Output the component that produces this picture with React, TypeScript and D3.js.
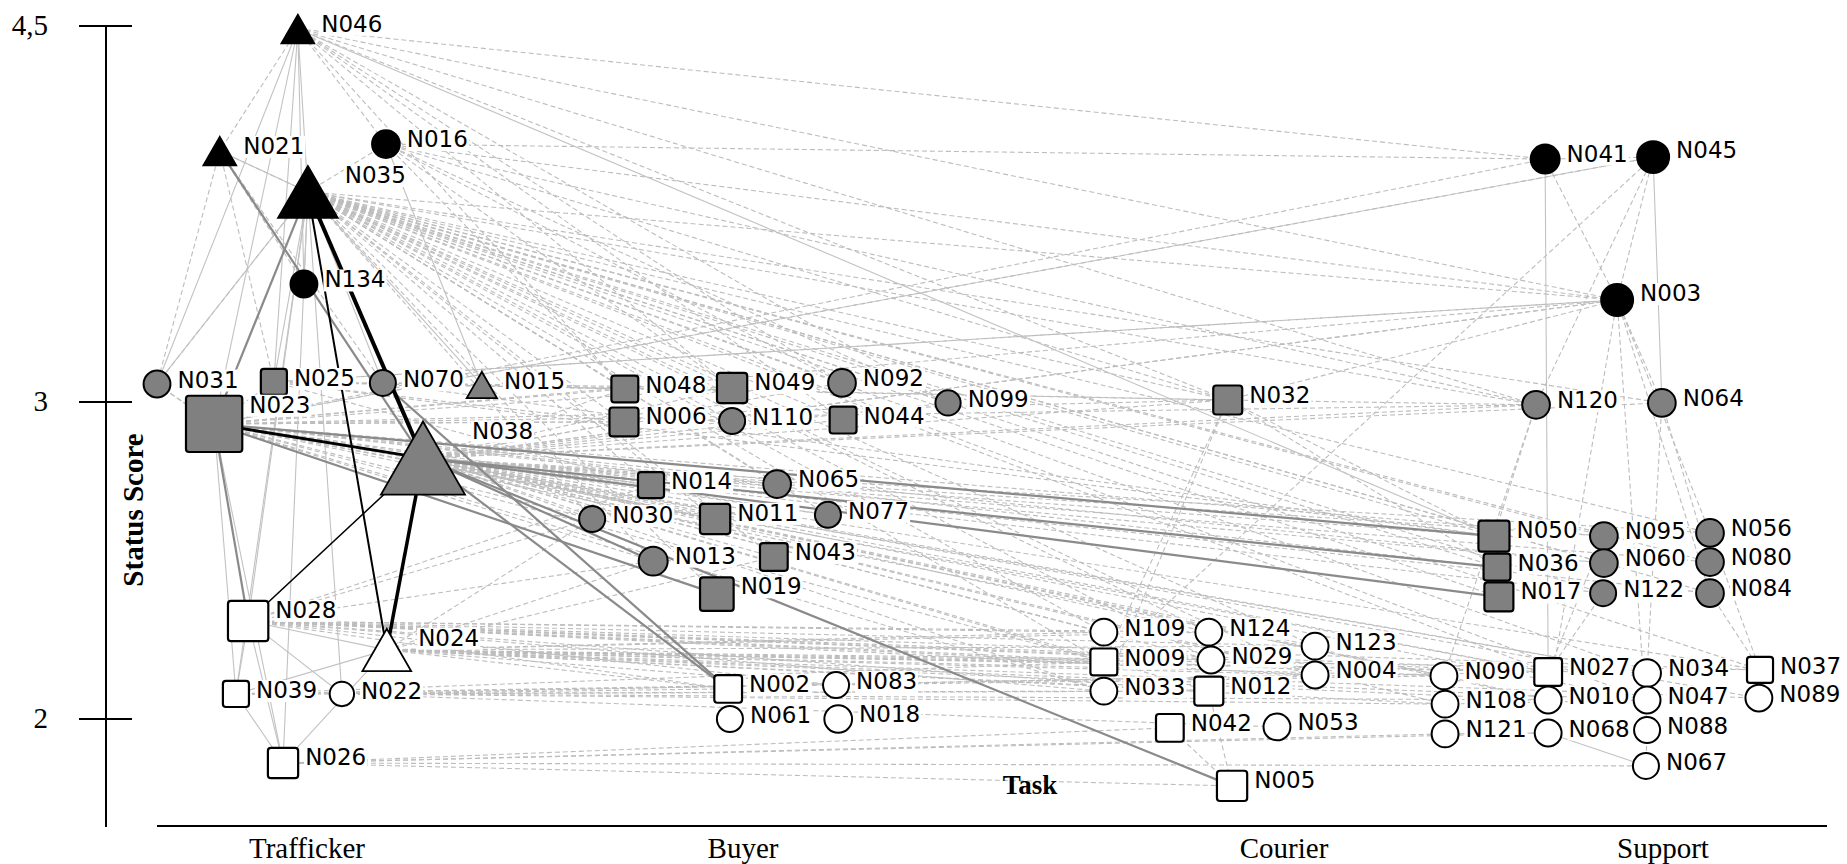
import React from 'react'
import * as d3 from 'd3'

// task categories along the bottom, status score ticks on the left
const taskLabels = ['Trafficker', 'Buyer', 'Courier', 'Support']
const scoreTicks = [2, 3, 4.5]
const scoreTickLabels = ['2', '3', '4,5']

// [id, task position, status score, shape, tone, centrality]
type NodeRow = [string, number, number, string, string, number]

const traffickerNodes: NodeRow[] = [
  ['N046', -0.021, 4.488, 'tri', 'black', 3.9],
  ['N021', -0.2, 4.001, 'tri', 'black', 3.9],
  ['N016', 0.181, 4.029, 'circle', 'black', 3.3],
  ['N035', 0.002, 3.838, 'tri', 'black', 7.1],
  ['N134', -0.007, 3.471, 'circle', 'black', 3.2],
  ['N031', -0.344, 3.072, 'circle', 'gray', 3.2],
  ['N025', -0.076, 3.08, 'square', 'gray', 3.1],
  ['N070', 0.174, 3.076, 'circle', 'gray', 3.1],
  ['N015', 0.401, 3.068, 'tri', 'gray', 3.6],
  ['N023', -0.213, 2.931, 'square', 'gray', 6.7],
  ['N038', 0.266, 2.823, 'tri', 'gray', 10],
  ['N028', -0.135, 2.309, 'square', 'white', 4.8],
  ['N024', 0.183, 2.218, 'tri', 'white', 5.8],
  ['N039', -0.163, 2.079, 'square', 'white', 3.1],
  ['N022', 0.08, 2.079, 'circle', 'white', 2.9],
  ['N026', -0.055, 1.861, 'square', 'white', 3.6],
]

const buyerNodes: NodeRow[] = [
  ['N048', 0.729, 3.052, 'square', 'gray', 3.2],
  ['N049', 0.975, 3.056, 'square', 'gray', 3.6],
  ['N092', 1.183, 3.076, 'circle', 'gray', 3.3],
  ['N099', 1.379, 2.997, 'circle', 'gray', 3.0],
  ['N006', 0.727, 2.937, 'square', 'gray', 3.45],
  ['N110', 0.975, 2.94, 'circle', 'gray', 3.1],
  ['N044', 1.185, 2.943, 'square', 'gray', 3.2],
  ['N014', 0.789, 2.738, 'square', 'gray', 3.1],
  ['N065', 1.063, 2.741, 'circle', 'gray', 3.3],
  ['N030', 0.654, 2.631, 'circle', 'gray', 3.1],
  ['N011', 0.936, 2.631, 'square', 'gray', 3.6],
  ['N077', 1.157, 2.644, 'circle', 'gray', 3.1],
  ['N013', 0.794, 2.498, 'circle', 'gray', 3.45],
  ['N043', 1.057, 2.511, 'square', 'gray', 3.3],
  ['N019', 0.94, 2.394, 'square', 'gray', 4.0],
  ['N002', 0.966, 2.095, 'square', 'white', 3.3],
  ['N083', 1.172, 2.107, 'circle', 'white', 3.1],
  ['N061', 0.97, 2.0, 'circle', 'white', 3.1],
  ['N018', 1.176, 2.0, 'circle', 'white', 3.3],
]

const courierNodes: NodeRow[] = [
  ['N032', 1.896, 3.008, 'square', 'gray', 3.45],
  ['N109', 1.667, 2.274, 'circle', 'white', 3.2],
  ['N009', 1.667, 2.18, 'square', 'white', 3.2],
  ['N033', 1.667, 2.088, 'circle', 'white', 3.2],
  ['N124', 1.861, 2.274, 'circle', 'white', 3.2],
  ['N029', 1.865, 2.186, 'circle', 'white', 3.2],
  ['N012', 1.861, 2.088, 'square', 'white', 3.45],
  ['N123', 2.082, 2.23, 'circle', 'white', 3.2],
  ['N004', 2.082, 2.139, 'circle', 'white', 3.2],
  ['N042', 1.789, 1.972, 'square', 'white', 3.3],
  ['N053', 1.987, 1.975, 'circle', 'white', 3.2],
  ['N005', 1.904, 1.789, 'square', 'white', 3.6],
]

const supportNodes: NodeRow[] = [
  ['N041', 2.689, 3.969, 'circle', 'black', 3.45],
  ['N045', 2.974, 3.977, 'circle', 'black', 3.8],
  ['N003', 2.879, 3.407, 'circle', 'black', 3.8],
  ['N120', 2.665, 2.991, 'circle', 'gray', 3.3],
  ['N064', 2.997, 2.997, 'circle', 'gray', 3.3],
  ['N050', 2.554, 2.577, 'square', 'gray', 3.7],
  ['N036', 2.562, 2.479, 'square', 'gray', 3.2],
  ['N017', 2.567, 2.385, 'square', 'gray', 3.45],
  ['N095', 2.844, 2.577, 'circle', 'gray', 3.3],
  ['N060', 2.844, 2.492, 'circle', 'gray', 3.3],
  ['N122', 2.842, 2.397, 'circle', 'gray', 3.1],
  ['N056', 3.124, 2.587, 'circle', 'gray', 3.3],
  ['N080', 3.124, 2.495, 'circle', 'gray', 3.3],
  ['N084', 3.124, 2.397, 'circle', 'gray', 3.3],
  ['N090', 2.422, 2.136, 'circle', 'white', 3.2],
  ['N108', 2.425, 2.047, 'circle', 'white', 3.2],
  ['N121', 2.425, 1.953, 'circle', 'white', 3.2],
  ['N027', 2.697, 2.148, 'square', 'white', 3.3],
  ['N010', 2.697, 2.06, 'circle', 'white', 3.2],
  ['N068', 2.697, 1.956, 'circle', 'white', 3.2],
  ['N034', 2.958, 2.145, 'circle', 'white', 3.3],
  ['N047', 2.958, 2.06, 'circle', 'white', 3.2],
  ['N088', 2.958, 1.965, 'circle', 'white', 3.1],
  ['N067', 2.955, 1.852, 'circle', 'white', 3.1],
  ['N037', 3.256, 2.155, 'square', 'white', 3.1],
  ['N089', 3.253, 2.066, 'circle', 'white', 3.2],
]

// ties: hub -> list of partners
const dashedTies: [string, string[]][] = [
  ['N035', ['N048', 'N049', 'N092', 'N099', 'N006', 'N110', 'N044', 'N014', 'N065', 'N030', 'N011', 'N077', 'N013', 'N043', 'N019', 'N032', 'N050', 'N036', 'N017', 'N095', 'N060', 'N122', 'N056', 'N080', 'N084', 'N120', 'N064', 'N003', 'N109', 'N009', 'N029', 'N124', 'N123', 'N004', 'N027', 'N034', 'N037', 'N047']],
  ['N038', ['N048', 'N006', 'N049', 'N110', 'N092', 'N044', 'N099', 'N014', 'N065', 'N011', 'N077', 'N030', 'N043', 'N032', 'N050', 'N095', 'N060', 'N056', 'N080', 'N084', 'N122', 'N109', 'N009', 'N033', 'N124', 'N029', 'N012', 'N123', 'N004', 'N090', 'N108', 'N027', 'N010', 'N034', 'N047', 'N037', 'N089', 'N120', 'N064', 'N003']],
  ['N023', ['N048', 'N006', 'N049', 'N110', 'N014', 'N011', 'N030', 'N013', 'N065', 'N077', 'N032', 'N036', 'N095', 'N060', 'N120', 'N003', 'N045', 'N009', 'N033', 'N090', 'N027', 'N034', 'N031', 'N025']],
  ['N046', ['N016', 'N048', 'N049', 'N092', 'N044', 'N032', 'N003', 'N120', 'N041', 'N099', 'N021']],
  ['N016', ['N041', 'N048', 'N049', 'N092', 'N099', 'N032', 'N003', 'N120', 'N035']],
  ['N021', ['N035', 'N134', 'N031', 'N025', 'N070']],
  ['N028', ['N109', 'N009', 'N033', 'N124', 'N029', 'N012', 'N123', 'N004', 'N090', 'N027', 'N034', 'N037', 'N002', 'N083', 'N013', 'N030', 'N014']],
  ['N024', ['N109', 'N009', 'N029', 'N124', 'N012', 'N123', 'N004', 'N090', 'N108', 'N027', 'N010', 'N034', 'N047', 'N037', 'N089', 'N002', 'N083', 'N030', 'N013', 'N043']],
  ['N039', ['N033', 'N009', 'N090', 'N027', 'N022']],
  ['N022', ['N002', 'N012', 'N004', 'N108', 'N010', 'N053']],
  ['N026', ['N067', 'N121', 'N005', 'N068', 'N042']],
  ['N025', ['N048', 'N006', 'N014', 'N032', 'N003', 'N050', 'N070']],
  ['N070', ['N048', 'N049', 'N015', 'N050', 'N032']],
  ['N031', ['N035', 'N023']],
  ['N032', ['N050', 'N036', 'N120', 'N003', 'N009', 'N033']],
  ['N041', ['N003', 'N045', 'N023']],
  ['N045', ['N003', 'N120', 'N009', 'N023']],
  ['N003', ['N064', 'N056', 'N084', 'N088', 'N010', 'N038', 'N025']],
  ['N120', ['N090', 'N050']],
  ['N064', ['N034', 'N080']],
  ['N056', ['N037']],
  ['N084', ['N037']],
  ['N122', ['N027']],
  ['N095', ['N027']],
  ['N088', ['N067']],
  ['N090', ['N010']],
  ['N108', ['N047']],
  ['N042', ['N005']],
  ['N012', ['N005']],
]

const solidTies: [string, string[]][] = [
  ['N035', ['N046', 'N134', 'N025', 'N031', 'N070', 'N039', 'N026', 'N028', 'N022', 'N015', 'N021']],
  ['N046', ['N050', 'N025', 'N023', 'N134', 'N031']],
  ['N016', ['N015']],
  ['N028', ['N039', 'N026', 'N022', 'N024']],
  ['N024', ['N026', 'N039']],
  ['N026', ['N039', 'N023']],
  ['N023', ['N039']],
  ['N041', ['N027']],
  ['N045', ['N064']],
  ['N068', ['N067']],
  ['N121', ['N068']],
]

const strongTies: [string, string][] = [
  ['N021', 'N038'],
  ['N035', 'N023'],
  ['N023', 'N028'],
  ['N023', 'N050'],
  ['N023', 'N019'],
  ['N038', 'N017'],
  ['N038', 'N036'],
  ['N038', 'N005'],
  ['N038', 'N002'],
  ['N070', 'N002'],
  ['N038', 'N013'],
]

// [source, target, tie strength]
const blackTies: [string, string, number][] = [
  ['N035', 'N038', 4],
  ['N038', 'N024', 3.5],
  ['N023', 'N038', 3],
  ['N035', 'N024', 2],
  ['N038', 'N028', 1.5],
]

const W = 1847
const H = 864
const LABEL_FONT = '"DejaVu Sans", Verdana, sans-serif'
const LABEL_SIZE = 23
const SERIF = '"Liberation Serif", "Times New Roman", serif'

const x = d3.scaleLinear().domain([0, 1, 2, 3]).range([307, 743, 1284, 1663])
const y = d3.scaleLinear().domain([2, 3, 4.5]).range([719, 402, 26])
const size = d3.scaleLinear().domain([0, 10]).range([0, 84])
const toneFill = d3.scaleOrdinal<string, string>().domain(['black', 'gray', 'white']).range(['#000000', '#808080', '#ffffff'])

const allNodes = [...traffickerNodes, ...buyerNodes, ...courierNodes, ...supportNodes].map(
  ([id, pos, score, shape, tone, c]) => {
    const w = size(c)
    const h = shape === 'tri' ? w * 0.87 : w
    return { id, cx: x(pos), cy: y(score), shape, tone, w, h }
  }
)
const byId = new Map(allNodes.map((n) => [n.id, n]))

const expand = (list: [string, string[]][]) =>
  list.flatMap(([s, ts]) => ts.map((t) => [s, t] as [string, string])).filter(([s, t]) => byId.has(s) && byId.has(t))

function Shape({ n }: { n: (typeof allNodes)[number] }) {
  const fill = toneFill(n.tone)
  if (n.shape === 'circle') {
    return <ellipse cx={n.cx} cy={n.cy} rx={n.w / 2} ry={n.h / 2} fill={fill} stroke="#000" strokeWidth={2} />
  }
  if (n.shape === 'square') {
    return <rect x={n.cx - n.w / 2} y={n.cy - n.h / 2} width={n.w} height={n.h} rx={3} fill={fill} stroke="#000" strokeWidth={2.2} />
  }
  const p = d3.path()
  p.moveTo(n.cx, n.cy - n.h / 2)
  p.lineTo(n.cx + n.w / 2, n.cy + n.h / 2)
  p.lineTo(n.cx - n.w / 2, n.cy + n.h / 2)
  p.closePath()
  return <path d={p.toString()} fill={fill} stroke="#000" strokeWidth={1.8} />
}

export default function App() {
  const seg = (s: string, t: string) => {
    const a = byId.get(s)!
    const b = byId.get(t)!
    return { x1: a.cx, y1: a.cy, x2: b.cx, y2: b.cy }
  }
  const axisY = 826
  const axisLeft = 106
  const labelW = LABEL_SIZE * 2.66

  return (
    <svg width={W} height={H} style={{ position: 'absolute', left: 0, top: 0, background: '#fff' }}>
      <rect width={W} height={H} fill="#fff" />

      {/* ties */}
      <g fill="none">
        {expand(dashedTies).map(([s, t], i) => (
          <line key={'d' + i} {...seg(s, t)} stroke="#bdbdbd" strokeWidth={1.1} strokeDasharray="5 3" />
        ))}
        {expand(solidTies).map(([s, t], i) => (
          <line key={'s' + i} {...seg(s, t)} stroke="#c2c2c2" strokeWidth={1.1} />
        ))}
        {strongTies.map(([s, t], i) => (
          <line key={'g' + i} {...seg(s, t)} stroke="#8a8a8a" strokeWidth={2.2} />
        ))}
        {blackTies.map(([s, t, wgt], i) => (
          <line key={'b' + i} {...seg(s, t)} stroke="#000" strokeWidth={wgt} />
        ))}
      </g>

      {/* axes */}
      <line x1={axisLeft} x2={axisLeft} y1={y(4.5)} y2={axisY + 1} stroke="#000" strokeWidth={2} />
      <line x1={157} x2={1827} y1={axisY} y2={axisY} stroke="#000" strokeWidth={2} />
      {scoreTicks.map((t, i) => (
        <g key={t}>
          <line x1={79} x2={132} y1={y(t)} y2={y(t)} stroke="#000" strokeWidth={2} />
          <text x={48} y={y(t) + 9} textAnchor="end" fontFamily={SERIF} fontSize={29}>
            {scoreTickLabels[i]}
          </text>
        </g>
      ))}
      {taskLabels.map((t, i) => (
        <text key={t} x={x(i)} y={858} textAnchor="middle" fontFamily={SERIF} fontSize={29}>
          {t}
        </text>
      ))}
      <text transform="translate(143,510) rotate(-90)" textAnchor="middle" fontFamily={SERIF} fontWeight="bold" fontSize={29}>
        Status Score
      </text>
      <text x={1030} y={794} textAnchor="middle" fontFamily={SERIF} fontWeight="bold" fontSize={27}>
        Task
      </text>

      {/* nodes */}
      {allNodes.map((n) => (
        <Shape key={n.id} n={n} />
      ))}
      {allNodes.map((n) => {
        const lx = n.cx + n.w / 2 + 7
        const ly = n.cy - n.h / 2 + 17
        return (
          <g key={'l' + n.id}>
            <rect x={lx - 1} y={ly - 18} width={labelW + 2} height={22} fill="#fff" />
            <text x={lx} y={ly} fontFamily={LABEL_FONT} fontSize={LABEL_SIZE} fill="#000">
              {n.id}
            </text>
          </g>
        )
      })}
    </svg>
  )
}
